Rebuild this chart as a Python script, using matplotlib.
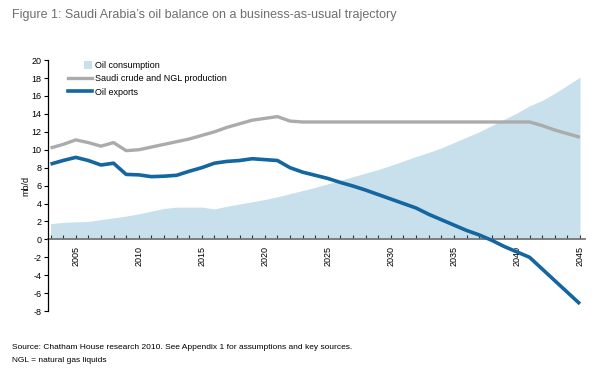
import matplotlib
matplotlib.use('Agg')
import matplotlib.pyplot as plt
from matplotlib.patches import Patch, Rectangle
from matplotlib.lines import Line2D
from matplotlib.legend_handler import HandlerPatch

plt.rcParams['font.family'] = ['Liberation Sans', 'DejaVu Sans']
plt.rcParams['axes.unicode_minus'] = False

# data (mb/d)
years = list(range(2003, 2046))
consumption = [1.75, 1.9, 1.95, 2.0, 2.2, 2.4, 2.6, 2.85, 3.15, 3.45,
               3.6, 3.6, 3.6, 3.4, 3.7, 3.95, 4.2, 4.45, 4.75, 5.1,
               5.45, 5.8, 6.2, 6.6, 7.0, 7.4, 7.8, 8.25, 8.75, 9.25,
               9.7, 10.2, 10.8, 11.4, 12.0, 12.7, 13.4, 14.1, 14.9, 15.5,
               16.3, 17.2, 18.1]
production = [10.2, 10.6, 11.1, 10.8, 10.4, 10.8, 9.9, 10.0, 10.3, 10.6,
              10.9, 11.2, 11.6, 12.0, 12.5, 12.9, 13.3, 13.5, 13.7, 13.2,
              13.1, 13.1, 13.1, 13.1, 13.1, 13.1, 13.1, 13.1, 13.1, 13.1,
              13.1, 13.1, 13.1, 13.1, 13.1, 13.1, 13.1, 13.1, 13.1, 12.7,
              12.2, 11.8, 11.4]
exports = [8.4, 8.8, 9.15, 8.8, 8.3, 8.5, 7.25, 7.2, 7.0, 7.05,
           7.15, 7.6, 8.0, 8.5, 8.7, 8.8, 9.0, 8.9, 8.8, 8.0,
           7.5, 7.15, 6.8, 6.35, 5.95, 5.5, 5.0, 4.5, 4.0, 3.5,
           2.8, 2.2, 1.6, 1.0, 0.5, -0.1, -0.8, -1.4, -2.0, -3.3,
           -4.6, -5.9, -7.2]
tick_years = [2005, 2010, 2015, 2020, 2025, 2030, 2035, 2040, 2045]

c_area = '#c8dfec'
c_prod = '#ababab'
c_exp = '#1466a0'


# small square at the right end of the legend handle
def square_patch(legend, orig_handle, xdescent, ydescent, width, height, fontsize):
    s = height * 1.1
    return Rectangle((width - s - xdescent, -ydescent + (height - s) / 2), s, s)


fig = plt.figure(figsize=(6, 3.69), dpi=100)
ax = fig.add_axes([0.08, 0.157, 0.895, 0.68])

ax.fill_between(years, 0, consumption, color=c_area, lw=0, zorder=1)
ax.plot(years, production, color=c_prod, lw=2.4, zorder=3, solid_capstyle='butt')
ax.plot(years, exports, color=c_exp, lw=2.6, zorder=4, solid_capstyle='butt')

ax.set_xlim(2002.8, 2045.4)
ax.set_ylim(-8, 20)
ax.set_yticks(range(-8, 21, 2))
ax.tick_params(axis='y', labelsize=6.5, length=3, width=0.8, pad=1.5)

# x axis drawn at zero
for s in ['top', 'right']:
    ax.spines[s].set_visible(False)
ax.spines['bottom'].set_position(('data', 0))
ax.spines['bottom'].set_color('#777777')
ax.spines['bottom'].set_linewidth(1.3)
ax.spines['bottom'].set_zorder(2)
ax.spines['left'].set_linewidth(0.9)
ax.set_xticks(tick_years)
ax.set_xticks(years, minor=True)
ax.set_xticklabels([str(y) for y in tick_years], rotation=90, fontsize=6.5)
ax.tick_params(axis='x', which='both', direction='in', length=3, width=0.8,
               pad=5, color='#333333')

ax.set_ylabel('mb/d', fontsize=6.5, labelpad=1)

handles = [Patch(facecolor=c_area, edgecolor='none', label='Oil consumption'),
           Line2D([], [], color=c_prod, lw=2.4, label='Saudi crude and NGL production'),
           Line2D([], [], color=c_exp, lw=2.6, label='Oil exports')]
ax.legend(handles=handles, loc='upper left', bbox_to_anchor=(0.023, 1.03),
          frameon=False, fontsize=6.5, handlelength=2.6, handleheight=0.9,
          handletextpad=0.35, labelspacing=0.5,
          handler_map={Patch: HandlerPatch(patch_func=square_patch)})

fig.text(0.02, 0.96, "Figure 1: Saudi Arabia\u2019s oil balance on a business-as-usual trajectory",
         fontsize=9, color='#6e6e6e', va='center')
fig.text(0.02, 0.057, 'Source: Chatham House research 2010. See Appendix 1 for assumptions and key sources.',
         fontsize=6, va='center')
fig.text(0.02, 0.024, 'NGL = natural gas liquids', fontsize=6, va='center')

fig.savefig('out.png', dpi=100)
